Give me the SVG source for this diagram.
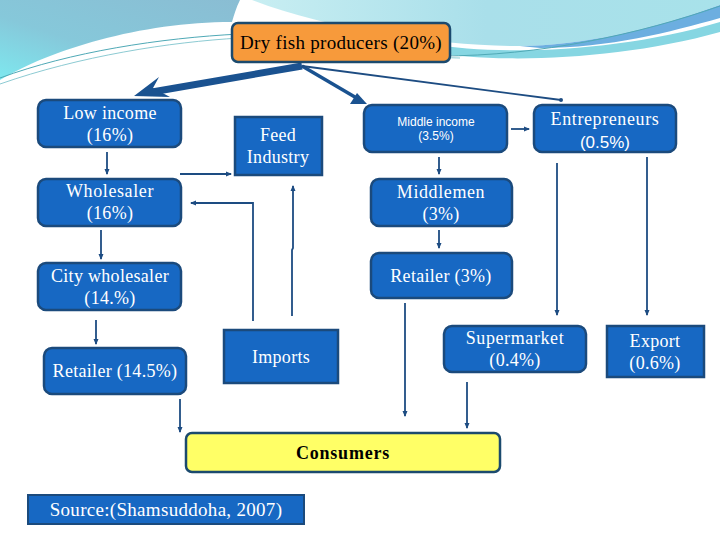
<svg xmlns="http://www.w3.org/2000/svg" width="720" height="540" viewBox="0 0 720 540">
<defs>
<linearGradient id="gl" x1="1" y1="0" x2="0" y2="1">
<stop offset="0" stop-color="#8abdd3"/>
<stop offset="0.6" stop-color="#86c8da"/>
<stop offset="1" stop-color="#7ee8ef"/>
</linearGradient>
<linearGradient id="gr" x1="0" y1="0" x2="1" y2="0">
<stop offset="0" stop-color="#c8eef2"/>
<stop offset="0.5" stop-color="#a9dfea"/>
<stop offset="1" stop-color="#a8e2ea"/>
</linearGradient>
<marker id="ah" markerWidth="6" markerHeight="6" refX="5" refY="3" orient="auto" markerUnits="userSpaceOnUse">
<path d="M0,0.5 L6,3 L0,5.5 z" fill="#1d4c82"/>
</marker>
<style>
.nb{fill:#1768c3;stroke:#1b4a7c;stroke-width:2.5}
.t{font-family:"Liberation Serif","DejaVu Serif",serif;font-size:18px;letter-spacing:0.3px;fill:#ffffff;text-anchor:middle}
.ts{font-family:"Liberation Sans",Arial,sans-serif;fill:#ffffff;text-anchor:middle}
.c{stroke:#1d4c82;stroke-width:1.8;fill:none}
.ca{stroke:#1d4c82;stroke-width:1.8;fill:none;marker-end:url(#ah)}
</style>
</defs>
<rect x="0" y="0" width="720" height="540" fill="#ffffff"/>
<g id="background">
<path d="M0,0 H240 C236,8 234,15 232,22 C140,22 50,50 0,80 Z" fill="url(#gl)"/>
<path d="M430,44 C500,56 620,52 720,22 V32 C620,60 500,64 430,52 Z" fill="#86d6e2"/>
<path d="M252,0 H720 V5 C650,30 580,46 520,46 C440,46 330,30 252,0 Z" fill="url(#gr)"/>
<path d="M720,5 C650,30 580,46 520,46 L540,48 C610,48 670,32 720,18 Z" fill="#6caee0"/>
<path d="M0,78 C70,52 160,38 240,34 C300,32 360,55 440,56 C540,56 640,34 720,6" stroke="#4fa9b6" stroke-width="1" fill="none"/>
<path d="M0,84 C80,56 170,42 240,38 C320,40 380,58 460,58" stroke="#6fbcc6" stroke-width="0.8" fill="none"/>
</g>
<g id="connectors">
<path d="M302,66 L152,92" stroke="#1a5290" stroke-width="7" fill="none"/>
<path d="M134,96 L159,77 L153,88 L170,97 Z" fill="#1a5290"/>
<path d="M302,66 L360,100" stroke="#1a5290" stroke-width="3.5" fill="none"/>
<path d="M367,104 L357,93 L350,104 Z" fill="#1a5290"/>
<path d="M302,66 L561,100" class="c" stroke-width="1.6"/>
<circle cx="561" cy="100" r="2" fill="#1d4c82"/>
<path d="M107,152 V174" class="ca"/>
<path d="M101,230 V259" class="ca"/>
<path d="M96,320 V344" class="ca"/>
<path d="M180,399 V432" class="ca"/>
<path d="M180,174 H231" class="ca"/>
<path d="M253,321 V203 H191" class="ca"/>
<path d="M292,316 L292,250 L293,248 L293,186" class="ca"/>
<path d="M511,129 H529" class="ca"/>
<path d="M439,157 V174" class="ca"/>
<path d="M439,230 V248" class="ca"/>
<path d="M405,303 V416" class="ca"/>
<path d="M467,382 V428" class="ca"/>
<path d="M557,163 V315" class="ca"/>
<path d="M647,157 V315" class="ca"/>
</g>
<g id="producers">
<rect x="232" y="23" width="218" height="39" rx="6" fill="#f79a3b" stroke="#1b4a6e" stroke-width="2.5"/>
<text x="341" y="49" class="t" style="fill:#000000;font-size:19px">Dry fish producers (20%)</text>
</g>
<g id="low-income">
<rect x="38" y="100" width="143" height="47" rx="8" class="nb"/>
<text x="110" y="119" class="t">Low income</text>
<text x="110" y="141" class="t">(16%)</text>
</g>
<g id="feed-industry">
<rect x="235" y="117" width="87" height="58" class="nb"/>
<text x="278" y="141" class="t">Feed</text>
<text x="278" y="163" class="t">Industry</text>
</g>
<g id="middle-income">
<rect x="364" y="105" width="143" height="47" rx="8" class="nb"/>
<text x="436" y="126" class="ts" font-size="12">Middle income</text>
<text x="436" y="140" class="ts" font-size="12">(3.5%)</text>
</g>
<g id="entrepreneurs">
<rect x="534" y="105" width="142" height="47" rx="8" class="nb"/>
<text x="605" y="125" class="t" style="letter-spacing:0.6px">Entrepreneurs</text>
<text x="605" y="148" class="ts" font-size="17">(0.5%)</text>
</g>
<g id="wholesaler">
<rect x="38" y="179" width="143" height="47" rx="8" class="nb"/>
<text x="110" y="197" class="t" style="letter-spacing:0.6px">Wholesaler</text>
<text x="110" y="219" class="t">(16%)</text>
</g>
<g id="middlemen">
<rect x="371" y="179" width="141" height="47" rx="8" class="nb"/>
<text x="441" y="198" class="t" style="letter-spacing:0.6px">Middlemen</text>
<text x="441" y="220" class="t">(3%)</text>
</g>
<g id="city-wholesaler">
<rect x="38" y="263" width="143" height="47" rx="8" class="nb"/>
<text x="110" y="282" class="t">City wholesaler</text>
<text x="110" y="304" class="t">(14.%)</text>
</g>
<g id="retailer-3">
<rect x="371" y="253" width="141" height="45" rx="8" class="nb"/>
<text x="441" y="282" class="t">Retailer (3%)</text>
</g>
<g id="retailer-14-5">
<rect x="44" y="348" width="142" height="46" rx="8" class="nb"/>
<text x="115" y="377" class="t">Retailer (14.5%)</text>
</g>
<g id="imports">
<rect x="224" y="330" width="114" height="53" class="nb"/>
<text x="281" y="363" class="t">Imports</text>
</g>
<g id="supermarket">
<rect x="444" y="326" width="142" height="46" rx="8" class="nb"/>
<text x="515" y="344" class="t" style="letter-spacing:0.6px">Supermarket</text>
<text x="515" y="366" class="t">(0.4%)</text>
</g>
<g id="export">
<rect x="607" y="326" width="97" height="51" class="nb"/>
<text x="655" y="347" class="t">Export</text>
<text x="655" y="369" class="t">(0.6%)</text>
</g>
<g id="consumers">
<rect x="186" y="433" width="314" height="39" rx="6" fill="#ffff66" stroke="#1b4a6e" stroke-width="2.5"/>
<text x="343" y="459" class="t" style="fill:#000000;font-weight:bold;letter-spacing:0.8px">Consumers</text>
</g>
<g id="source">
<rect x="28" y="495" width="276" height="29" class="nb" style="stroke-width:2"/>
<text x="166" y="516" class="t" style="font-size:19px">Source:(Shamsuddoha, 2007)</text>
</g>
</svg>
